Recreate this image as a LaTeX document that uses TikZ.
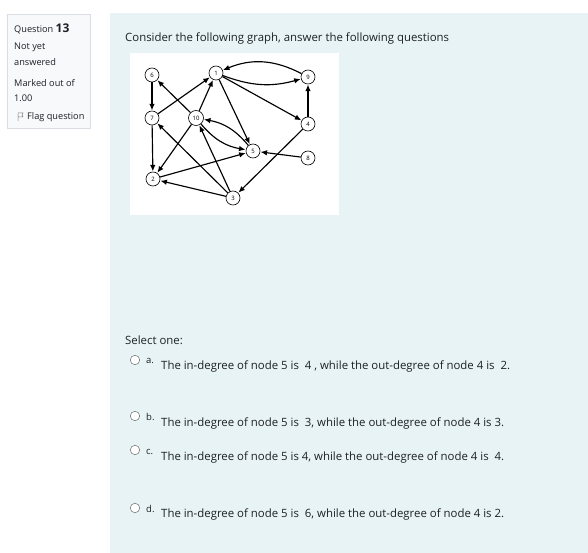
\documentclass[tikz,border=0pt]{standalone}
\usepackage{fontspec}
\setmainfont{Open Sans}
\usetikzlibrary{arrows.meta}
\definecolor{panelblue}{RGB}{231,243,245}
\definecolor{infogray}{RGB}{248,249,250}
\definecolor{infoborder}{RGB}{218,222,226}
\definecolor{textgray}{RGB}{29,33,37}
\tikzset{
    info-box/.style = {draw=infoborder, fill=infogray, line width=0.8pt},
    info-text/.style = {anchor=west, inner sep=0pt, text=textgray, font=\fontsize{9.2}{10}\selectfont},
    body-text/.style = {anchor=west, inner sep=0pt, text=textgray, font=\fontsize{11.4}{13}\selectfont},
    vertex/.style = {draw, circle, fill=white, inner sep=0pt, minimum size=14pt, line width=0.6pt, font=\fontsize{6}{6}\selectfont},
    arc/.style = {-{Latex[length=6.5pt,width=5.5pt]}, line width=1.15pt, shorten >=0.3pt},
    radio/.style = {draw=gray, circle, fill=white, minimum size=9.5pt, inner sep=0pt, line width=0.6pt},
    choice-letter/.style = {anchor=west, inner sep=0pt, text=textgray, font=\fontsize{9.5}{10}\selectfont},
}

\begin{document}
\begin{tikzpicture}[x=1pt, y=-1pt]
\useasboundingbox (0,0) rectangle (588,553);
\fill[white] (0,0) rectangle (588,553);

% question info
\draw[info-box] (7,14) rectangle (90,128);
\node[info-text] (qnum) at (14,29) {Question \textbf{\fontsize{12}{13}\selectfont 13}};
\node[info-text] (state1) at (14,47) {Not yet};
\node[info-text] (state2) at (14,62) {answered};
\node[info-text] (mark1) at (14,83) {Marked out of};
\node[info-text] (mark2) at (14,98) {1.00};
\node[info-text] (flag) at (27,117) {Flag question};
\draw[gray, line width=0.5pt] (18,121) -- (18,113) -- (23,113) -- (22,115) -- (23,117) -- (18,117);

% question body
\fill[panelblue] (110,13) rectangle (588,553);
\node[body-text] (prompt) at (125,39) {Consider the following graph, answer the following questions};
\fill[white] (130,53) rectangle (339,215);

% the graph
\node[vertex] (n6) at (152,75) {6};
\node[vertex] (n1) at (216,73) {1};
\node[vertex] (n9) at (308,77) {9};
\node[vertex] (n7) at (152,118) {7};
\node[vertex, minimum size=15pt] (n10) at (196,118) {10};
\node[vertex] (n4) at (308,124) {4};
\node[vertex] (n5) at (253,151) {5};
\node[vertex] (n8) at (308,158) {8};
\node[vertex] (n2) at (153,179) {2};
\node[vertex] (n3) at (233,198) {3};

\draw[arc] (n6) -- (n7);
\draw[arc] (n9) to[bend right=25] (n1);
\draw[arc] (n1) to[bend right=18] (n9);
\draw[arc] (n7) -- (n1);
\draw[arc] (n10) -- (n1);
\draw[arc] (n1) -- (n4);
\draw[arc] (n1) -- (n5);
\draw[arc] (n4) -- (n9);
\draw[arc] (n10) -- (n6);
\draw[arc] (n5) to[bend right=20] (n10);
\draw[arc] (n10) to[bend right=20] (n5);
\draw[arc] (n7) -- (n2);
\draw[arc] (n10) -- (n2);
\draw[arc] (n2) -- (n5);
\draw[arc] (n8) -- (n5);
\draw[arc] (n3) -- (n2);
\draw[arc] (n3) -- (n7);
\draw[arc] (n3) -- (n10);
\draw[arc] (n4) -- (n3);

% answers
\node[body-text] (select) at (125,340) {Select one:};

\node[radio] (ra) at (135,360) {};
\node[choice-letter] (la) at (146,361) {a.};
\node[body-text] (ta) at (161,367) {The in-degree of node 5 is \ 4 , while the out-degree of node 4 is \ 2.};

\node[radio] (rb) at (135,416) {};
\node[choice-letter] (lb) at (146,417) {b.};
\node[body-text] (tb) at (161,424) {The in-degree of node 5 is \ 3, while the out-degree of node 4 is 3.};

\node[radio] (rc) at (135,450) {};
\node[choice-letter] (lc) at (146,452) {c.};
\node[body-text] (tc) at (161,458) {The in-degree of node 5 is 4, while the out-degree of node 4 is \ 4.};

\node[radio] (rd) at (135,508) {};
\node[choice-letter] (ld) at (146,509) {d.};
\node[body-text] (td) at (161,515) {The in-degree of node 5 is \ 6, while the out-degree of node 4 is 2.};
\end{tikzpicture}
\end{document}
